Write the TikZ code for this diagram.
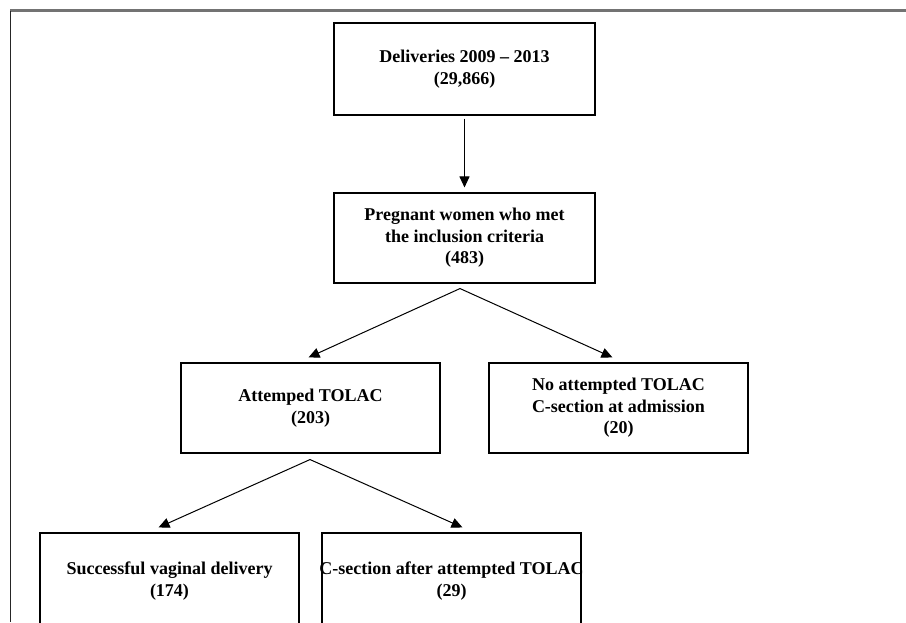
\documentclass[tikz,border=0pt]{standalone}
\usepackage{fontspec}
\setmainfont{Liberation Serif}
\usetikzlibrary{arrows.meta,positioning}
\tikzset{
  flowbox/.style={draw=black, line width=1.1pt, rectangle, minimum width=259pt, minimum height=90pt,
    inner sep=0pt, align=center, font=\fontsize{18}{21.5}\selectfont\bfseries},
  flowarrow/.style={draw=black, line width=1pt, -{Triangle[length=11pt,width=10pt]}},
  frametop/.style={draw=black!55, line width=2.2pt},
  frameleft/.style={draw=black!85, line width=1.5pt}
}
\begin{document}
\begin{tikzpicture}[x=1pt,y=-1pt]
\useasboundingbox (0,0) rectangle (906,622);
\clip (0,0) rectangle (906,622);
\fill[white] (0,0) rectangle (906,622);
% frame
\coordinate (fTL) at (10.3,10.5);
\coordinate (fTR) at (906,10.5);
\coordinate (fBL) at (10.3,622);
\draw[frametop] (fTL) -- (fTR);
\draw[frameleft] (fTL) -- (fBL);
% boxes
\node[flowbox, minimum width=261pt, minimum height=92pt] (b1) at (464.5,69) {Deliveries 2009 – 2013\\(29,866)};
\node[flowbox, minimum width=261pt] (b2) at (464.5,238) {Pregnant women who met\\the inclusion criteria\\(483)};
\node[flowbox] (b3) at (310.5,408) {Attemped TOLAC\\(203)};
\node[flowbox] (b4) at (618.5,408) {No attempted TOLAC\\C-section at admission\\(20)};
\node[flowbox, minimum height=96pt] (b5) at (169.5,581) {Successful vaginal delivery\\(174)};
\node[flowbox, minimum height=96pt] (b6) at (451.5,581) {\makebox[250pt][c]{C-section after attempted TOLAC}\\(29)};
% connectors
\draw[flowarrow] ([yshift=-3pt]b1.south) -- ([yshift=5pt]b2.north);
\coordinate (s1) at ([xshift=-4.5pt,yshift=-5pt]b2.south);
\draw[flowarrow] (s1) -- ([xshift=-2pt,yshift=5pt]b3.north);
\draw[flowarrow] (s1) -- ([xshift=-6pt,yshift=5pt]b4.north);
\coordinate (s2) at ([xshift=-0.5pt,yshift=-6pt]b3.south);
\draw[flowarrow] (s2) -- ([xshift=-11pt,yshift=5pt]b5.north);
\draw[flowarrow] (s2) -- ([xshift=11pt,yshift=5pt]b6.north);
\end{tikzpicture}
\end{document}
